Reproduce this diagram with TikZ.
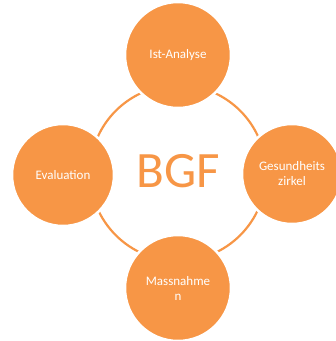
\documentclass[tikz,border=0pt]{standalone}
\usepackage{fontspec}
\setmainfont{Carlito}
\definecolor{bgforange}{HTML}{F79646}
\begin{document}
\begin{tikzpicture}[x=1pt,y=-1pt,
  bubble/.style={circle,fill=bgforange,draw=white,line width=2.5pt,minimum size=106pt,inner sep=0pt,text=white,font=\fontsize{13}{15}\selectfont,align=center},
  ring/.style={draw=bgforange,line width=2.2pt}]
\useasboundingbox (0,0) rectangle (336,341);
\node[circle,minimum size=176pt,inner sep=0pt] (ring) at (178,173) {};
\draw[ring] (ring.center) circle[radius=88];
\node[font=\fontsize{51}{51}\selectfont,text=bgforange] (bgf) at (178,171) {BGF};
\node[bubble] (top) at (178,55) {Ist-Analyse};
\node[bubble,minimum size=100pt] (right) at (292,174) {Gesundheits\\zirkel};
\node[bubble,minimum size=102pt] (left) at (63,175) {Evaluation};
\node[bubble] (bottom) at (178,288) {Massnahme\\n};
\end{tikzpicture}
\end{document}
